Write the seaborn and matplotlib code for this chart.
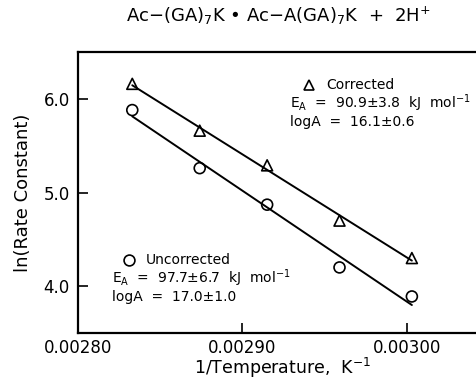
import numpy as np
import pandas as pd
import seaborn as sns
import matplotlib.pyplot as plt
from matplotlib.ticker import FormatStrFormatter

# 1/T (K^-1) for 353, 348, 343, 338, 333 K
inv_temp = [0.002833, 0.002874, 0.002915, 0.002959, 0.003003]
ln_k_corrected = [6.16, 5.66, 5.29, 4.70, 4.30]
ln_k_uncorrected = [5.88, 5.26, 4.87, 4.20, 3.89]

x_ticks = [0.00280, 0.00290, 0.00300]
y_ticks = [4.0, 5.0, 6.0]

corrected_text = ["Corrected",
                  "E$_{\\mathrm{A}}$  =  90.9\u00b13.8  kJ  mol$^{-1}$",
                  "logA  =  16.1\u00b10.6"]
uncorrected_text = ["Uncorrected",
                    "E$_{\\mathrm{A}}$  =  97.7\u00b16.7  kJ  mol$^{-1}$",
                    "logA  =  17.0\u00b11.0"]
title = "Ac\u2212(GA)$_7$K \u2022 Ac\u2212A(GA)$_7$K  +  2H$^{+}$"

df = pd.DataFrame({"x": inv_temp, "corr": ln_k_corrected, "unc": ln_k_uncorrected})

sns.set_style("ticks")
plt.rcParams["font.family"] = ["DejaVu Sans"]
plt.rcParams["mathtext.fontset"] = "dejavusans"
for key in ["text.color", "axes.labelcolor", "xtick.color", "ytick.color", "axes.edgecolor"]:
    plt.rcParams[key] = "black"

fig = plt.figure(figsize=(4.77, 3.81), dpi=100)
ax = fig.add_axes([78 / 477, 48 / 381, 0.862, 281 / 381])

marker_kws = dict(s=62, facecolors="none", edgecolors="black", linewidths=1.2, alpha=1)
sns.regplot(data=df, x="x", y="corr", ax=ax, ci=None, marker="^",
            scatter_kws=marker_kws, line_kws=dict(color="black", lw=1.4))
sns.regplot(data=df, x="x", y="unc", ax=ax, ci=None, marker="o",
            scatter_kws=marker_kws, line_kws=dict(color="black", lw=1.4))

ax.set_xlim(0.00280, 0.00305)
ax.set_ylim(3.5, 6.5)
ax.set_xticks(x_ticks)
ax.set_yticks(y_ticks)
ax.xaxis.set_major_formatter(FormatStrFormatter("%.5f"))
ax.yaxis.set_major_formatter(FormatStrFormatter("%.1f"))
ax.tick_params(direction="in", length=7, width=1.2, labelsize=12, pad=6)
ax.tick_params(axis="x", pad=4)
for side in ["left", "bottom", "top", "right"]:
    ax.spines[side].set_linewidth(1.6)

ax.set_xlabel("1/Temperature,  K$^{-1}$", fontsize=12.5)
ax.xaxis.set_label_coords((283 - 78) / 411, -0.08)
ax.set_ylabel("ln(Rate Constant)", fontsize=13, labelpad=8)

fig.text(278 / 477, 1 - 16 / 381, title, ha="center", va="center", fontsize=13)

# legend keys drawn as the same open markers
ax.plot([309 / 477], [1 - 85 / 381], marker="^", ms=7.8, mfc="none", mec="black",
        mew=1.2, transform=fig.transFigure, clip_on=False)
ax.plot([129 / 477], [1 - 260 / 381], marker="o", ms=7.8, mfc="none", mec="black",
        mew=1.2, transform=fig.transFigure, clip_on=False)

for i, s in enumerate(corrected_text):
    fig.text((326 if i == 0 else 290) / 477, 1 - (85 + 18.5 * i) / 381, s,
             ha="left", va="center", fontsize=10)
for i, s in enumerate(uncorrected_text):
    fig.text((146 if i == 0 else 112) / 477, 1 - (260 + 18.5 * i) / 381, s,
             ha="left", va="center", fontsize=10)

fig.savefig("out.png", dpi=100)
